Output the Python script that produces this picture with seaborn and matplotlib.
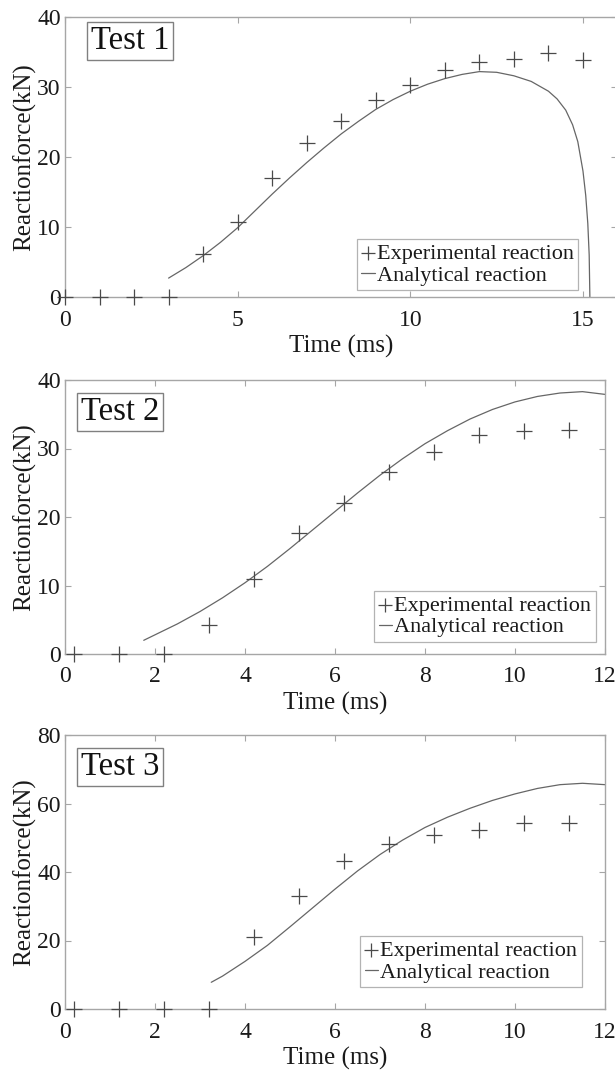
import matplotlib
matplotlib.use("Agg")
import matplotlib.pyplot as plt
import seaborn as sns
import pandas as pd

# Test 1 data
t1_exp_time = [0, 1, 2, 3, 4, 5, 6, 7, 8, 9, 10, 11, 12, 13, 14, 15]
t1_exp_force = [0, 0, 0, 0, 6.1, 10.7, 17.0, 22.0, 25.2, 28.1, 30.3, 32.4, 33.6, 34.0, 34.8, 33.8]
t1_ana_time = [3.0, 3.5, 4.0, 4.5, 5.0, 5.5, 6.0, 6.5, 7.0, 7.5, 8.0, 8.5, 9.0, 9.5, 10.0,
               10.5, 11.0, 11.5, 12.0, 12.5, 13.0, 13.5, 14.0, 14.25, 14.5, 14.7, 14.85,
               15.0, 15.08, 15.14, 15.18, 15.2]
t1_ana_force = [2.7, 4.2, 5.9, 7.8, 9.9, 12.3, 14.7, 17.0, 19.2, 21.3, 23.3, 25.1, 26.8,
                28.2, 29.4, 30.4, 31.2, 31.8, 32.2, 32.1, 31.6, 30.8, 29.4, 28.3, 26.7,
                24.6, 22.2, 18.0, 14.5, 10.5, 6.0, 0.0]

# Test 2 data
t2_exp_time = [0.2, 1.2, 2.2, 3.2, 4.2, 5.2, 6.2, 7.2, 8.2, 9.2, 10.2, 11.2]
t2_exp_force = [0, 0, 0, 4.2, 10.9, 17.6, 22.0, 26.5, 29.5, 32.0, 32.5, 32.7]
t2_ana_time = [1.75, 2.0, 2.5, 3.0, 3.5, 4.0, 4.5, 5.0, 5.5, 6.0, 6.5, 7.0, 7.5, 8.0,
               8.5, 9.0, 9.5, 10.0, 10.5, 11.0, 11.5, 12.0]
t2_ana_force = [2.0, 2.8, 4.4, 6.2, 8.2, 10.4, 12.8, 15.4, 18.1, 20.8, 23.5, 26.1, 28.5,
                30.7, 32.6, 34.3, 35.7, 36.8, 37.6, 38.1, 38.3, 37.9]

# Test 3 data
t3_exp_time = [0.2, 1.2, 2.2, 3.2, 4.2, 5.2, 6.2, 7.2, 8.2, 9.2, 10.2, 11.2]
t3_exp_force = [0, 0, 0, 0, 20.9, 33.0, 43.2, 48.3, 50.9, 52.4, 54.3, 54.3]
t3_ana_time = [3.25, 3.5, 4.0, 4.5, 5.0, 5.5, 6.0, 6.5, 7.0, 7.5, 8.0, 8.5, 9.0, 9.5,
               10.0, 10.5, 11.0, 11.5, 12.0]
t3_ana_force = [7.8, 9.6, 13.9, 18.6, 24.0, 29.5, 35.0, 40.3, 45.1, 49.3, 53.0, 56.0,
                58.6, 60.9, 62.8, 64.4, 65.5, 65.9, 65.5]

titles = ["Test 1", "Test 2", "Test 3"]
xlims = [(0, 16), (0, 12), (0, 12)]
xticks = [[0, 5, 10, 15], list(range(0, 13, 2)), list(range(0, 13, 2))]
ylims = [(0, 40), (0, 40), (0, 80)]
yticks = [list(range(0, 41, 10)), list(range(0, 41, 10)), list(range(0, 81, 20))]

sns.set_style("ticks")
plt.rcParams["font.family"] = ["Liberation Serif", "DejaVu Serif"]

W, H = 615, 1073
fig = plt.figure(figsize=(W / 100, H / 100), dpi=100)

# axes boxes in pixels: left, top, right, bottom
boxes = [(65, 17, 617.5, 297), (65, 380, 605, 654), (65, 735, 605, 1009)]
legend_anchor = [(0.929, 0.025), (0.983, 0.044), (0.957, 0.08)]
label_pos = [(0.047, 0.968), (0.030, 0.938), (0.030, 0.938)]

exp_sets = [(t1_exp_time, t1_exp_force), (t2_exp_time, t2_exp_force), (t3_exp_time, t3_exp_force)]
ana_sets = [(t1_ana_time, t1_ana_force), (t2_ana_time, t2_ana_force), (t3_ana_time, t3_ana_force)]

spine_c = "#a6a6a6"
for i in range(3):
    l, t, r, b = boxes[i]
    ax = fig.add_axes([l / W, 1 - b / H, (r - l) / W, (b - t) / H])
    exp = pd.DataFrame({"time": exp_sets[i][0], "force": exp_sets[i][1]})
    ana = pd.DataFrame({"time": ana_sets[i][0], "force": ana_sets[i][1]})

    sns.scatterplot(data=exp, x="time", y="force", marker="+", s=125, color="#4a4a4a",
                    linewidth=0.9, ax=ax, label="Experimental reaction", clip_on=False, zorder=3)
    sns.lineplot(data=ana, x="time", y="force", color="#666666", linewidth=0.9, ax=ax,
                 label="Analytical reaction", zorder=2)

    ax.set_xlim(*xlims[i])
    ax.set_ylim(*ylims[i])
    ax.set_xticks(xticks[i])
    ax.set_yticks(yticks[i])
    ax.set_xlabel("Time (ms)", fontsize=18, color="#1a1a1a", labelpad=3)
    ax.set_ylabel("Reactionforce(kN)", fontsize=18, color="#1a1a1a", labelpad=1)
    ax.tick_params(direction="in", length=4, width=0.8, color=spine_c,
                   labelsize=17, labelcolor="#1a1a1a", top=True, right=True)
    ax.tick_params(axis="x", pad=9)
    ax.tick_params(axis="y", pad=3)
    for s in ax.spines.values():
        s.set_color(spine_c)
        s.set_linewidth(1.0)

    leg = ax.legend(loc="lower right", bbox_to_anchor=legend_anchor[i], borderaxespad=0,
                    fontsize=16, frameon=True, fancybox=False, handlelength=0.6,
                    handletextpad=0.1, borderpad=0.2, labelspacing=0.05,
                    markerscale=0.9)
    leg.get_frame().set_edgecolor("#a0a0a0")
    leg.get_frame().set_linewidth(0.9)
    for txt in leg.get_texts():
        txt.set_color("#1a1a1a")

    ax.text(label_pos[i][0], label_pos[i][1], titles[i], transform=ax.transAxes,
            fontsize=23.5, va="top", ha="left", color="#111111",
            bbox=dict(boxstyle="square,pad=0.12", facecolor="white",
                      edgecolor="#808080", linewidth=1.0))

fig.savefig("out.png", dpi=100)
